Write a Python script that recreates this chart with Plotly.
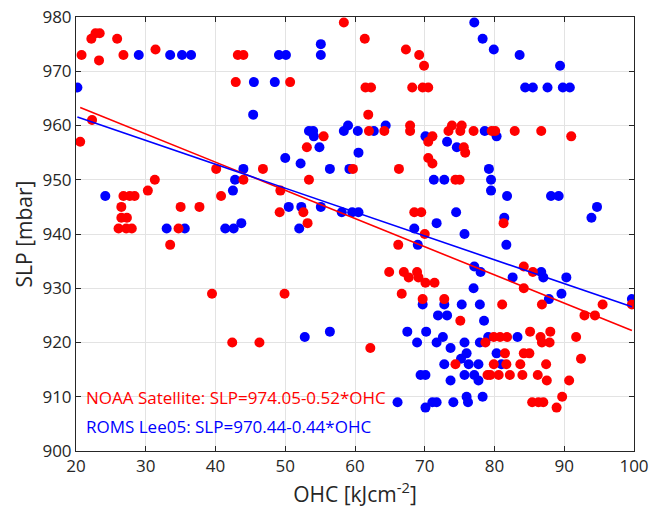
import plotly.graph_objects as go

# NOAA Satellite (red)
noaa_ohc = [20.8, 22.2, 22.8, 23.4, 23.3, 25.9, 26.8, 31.4, 22.3, 20.6,
            58.4, 43.2, 44.0, 42.9, 50.7, 55.5, 53.1,
            61.4, 67.3, 69.2, 69.9, 61.5, 62.3, 68.2, 69.7, 70.5, 61.9, 62.0, 64.2, 67.9, 67.9,
            71.1, 70.5, 70.5, 73.9, 73.4, 75.3, 75.1, 77.0, 79.6, 75.6, 75.8,
            80.1, 82.9, 86.7, 91.0,
            31.3, 30.3, 26.8, 27.7, 28.4, 26.5, 26.5, 27.3, 26.1, 27.2, 28.0, 33.5, 35.0, 37.7, 34.7,
            40.1, 46.8, 44.0, 40.8, 49.3, 49.2, 52.6, 53.4, 53.2, 59.7, 39.5, 49.9,
            71.1, 66.3, 74.4, 75.0, 68.5, 69.5, 70.0, 66.2, 64.9, 67.0, 67.7, 68.9, 69.1, 70.1, 71.4,
            66.7, 69.7, 72.8,
            81.3, 84.2, 85.5, 84.2,
            81.1, 86.8, 95.5, 99.7, 92.9, 94.4, 85.1, 88.0, 79.9, 80.8, 81.8, 86.6, 86.8, 87.9, 91.7,
            81.5, 84.2, 85.0, 92.4, 79.9, 81.7, 83.7, 87.4, 79.4, 80.6, 82.2, 84.0, 86.2, 87.5, 90.7,
            89.7, 85.4, 86.3, 87.0, 88.9,
            75.1, 78.7, 74.4, 79.0, 62.2,
            42.4, 46.3]
noaa_slp = [973, 976, 977, 977, 972, 976, 973, 974, 961, 957,
            979, 973, 973, 968, 968, 958, 956,
            976, 974, 973, 971, 967, 967, 967, 967, 967, 962, 959, 959, 960, 959,
            958, 957, 954, 960, 959, 960, 959, 959, 959, 956, 955,
            959, 959, 959, 958,
            950, 948, 947, 947, 947, 945, 943, 943, 941, 941, 941, 938, 945, 945, 941,
            952, 952, 950, 947, 948, 944, 944, 950, 942, 952, 929, 929,
            953, 952, 950, 950, 944, 944, 940, 938, 933, 933, 932, 933, 932, 931, 931,
            929, 928, 928,
            942, 934, 933, 930,
            927, 927, 927, 927, 925, 925, 922, 922, 921, 921, 921, 921, 920, 920, 921,
            918, 918, 918, 917, 916, 916, 916, 916, 914, 914, 914, 914, 914, 913, 913,
            910, 909, 909, 909, 908,
            924, 920, 916, 914, 919,
            920, 920]

# ROMS Lee05 (blue)
roms_ohc = [20.2, 29.0, 33.5, 35.2, 36.5,
            49.1, 50.1, 55.1, 55.1, 45.5, 48.5, 45.4, 53.4, 54.0, 54.1, 54.9, 58.4, 59.0, 50.0,
            60.4, 62.7, 64.4, 60.5, 70.1, 73.2, 74.6, 77.1, 78.3, 79.9, 78.6,
            83.6, 89.4, 84.4, 85.5, 87.6, 89.8, 90.8, 80.3,
            24.2, 33.0, 35.6,
            52.2, 56.4, 44.0, 42.8, 42.5, 50.5, 52.3, 55.1, 58.1, 41.4, 42.6, 43.7, 52.0, 59.2,
            79.2, 71.3, 72.8, 79.5, 79.5, 59.6, 60.5, 74.5, 71.7, 68.5, 75.7, 69.0, 77.1, 78.0, 77.0,
            81.8, 88.1, 89.2, 94.7, 93.9, 81.4, 81.7, 86.7, 87.0, 90.3, 82.6, 89.6, 87.8, 99.7,
            69.7, 72.8, 75.3, 77.9, 71.9, 73.2, 78.5, 67.5, 70.2, 72.6, 68.9, 71.7, 75.7, 73.7, 77.9,
            79.1, 76.0, 75.2, 72.8, 76.3, 77.7, 69.4, 70.1, 75.7, 77.1, 77.7, 73.7, 76.0, 78.3,
            66.1, 70.1, 71.1, 71.7, 74.1, 76.2,
            83.3, 80.3, 81.0,
            52.8, 56.4]
roms_slp = [967, 973, 973, 973, 973,
            973, 973, 975, 973, 968, 968, 962, 959, 959, 958, 956, 959, 960, 954,
            959, 959, 960, 955, 958, 957, 956, 979, 976, 974, 959,
            973, 971, 967, 967, 967, 967, 967, 958,
            947, 941, 941,
            953, 952, 952, 950, 948, 945, 945, 945, 944, 941, 941, 942, 941, 952,
            952, 950, 950, 950, 948, 944, 944, 944, 942, 941, 940, 938, 934, 933, 930,
            947, 947, 947, 945, 943, 943, 938, 933, 932, 932, 932, 929, 928, 928,
            927, 927, 927, 927, 925, 925, 924, 922, 922, 921, 920, 920, 920, 919, 920,
            921, 918, 917, 916, 916, 916, 914, 914, 914, 914, 913, 913, 910, 910,
            909, 908, 909, 909, 909, 909,
            921, 918, 916,
            921, 922]

# regression coefficients (from the figure text)
noaa_fit = (974.05, -0.52)
roms_fit = (970.44, -0.44)

x_ticks = [20, 30, 40, 50, 60, 70, 80, 90, 100]
y_ticks = [900, 910, 920, 930, 940, 950, 960, 970, 980]

RED = "#ff0000"
BLUE = "#0000ff"

fig = go.Figure()
fig.add_trace(go.Scatter(x=roms_ohc, y=roms_slp, mode="markers",
                         marker=dict(color=BLUE, size=10, line=dict(width=0)),
                         showlegend=False))
fig.add_trace(go.Scatter(x=noaa_ohc, y=noaa_slp, mode="markers",
                         marker=dict(color=RED, size=10, line=dict(width=0)),
                         showlegend=False))

nx = [min(noaa_ohc), max(noaa_ohc)]
fig.add_trace(go.Scatter(x=nx, y=[noaa_fit[0] + noaa_fit[1] * v for v in nx], mode="lines",
                         line=dict(color=RED, width=1.6), showlegend=False))
rx = [min(roms_ohc), max(roms_ohc)]
fig.add_trace(go.Scatter(x=rx, y=[roms_fit[0] + roms_fit[1] * v for v in rx], mode="lines",
                         line=dict(color=BLUE, width=1.6), showlegend=False))

fig.add_annotation(x=21.1, y=909.8, xref="x", yref="y", xanchor="left", yanchor="middle",
                   text="NOAA Satellite: SLP=974.05-0.52*OHC", showarrow=False,
                   font=dict(color=RED, size=17))
fig.add_annotation(x=21.1, y=904.6, xref="x", yref="y", xanchor="left", yanchor="middle",
                   text="ROMS Lee05: SLP=970.44-0.44*OHC", showarrow=False,
                   font=dict(color=BLUE, size=17))

axis_common = dict(showline=True, linecolor="#262626", linewidth=1, mirror="ticks",
                   ticks="inside", ticklen=5, tickcolor="#262626",
                   showgrid=True, gridcolor="#e3e3e3", gridwidth=1, zeroline=False,
                   automargin=False, ticklabeloverflow="allow",
                   tickfont=dict(size=17, color="#262626"))

fig.update_xaxes(range=[20, 100], tickvals=x_ticks, ticktext=[str(t) for t in x_ticks],
                 title=dict(text="OHC [kJcm<sup>-2</sup>]", font=dict(size=21, color="#262626"), standoff=6),
                 **axis_common)
fig.update_yaxes(range=[900, 980], tickvals=y_ticks, ticktext=[str(t) for t in y_ticks],
                 title=dict(text="SLP [mbar]", font=dict(size=21, color="#262626"), standoff=4),
                 **axis_common)

fig.update_layout(width=651, height=510, margin=dict(l=76, r=17, t=17, b=59),
                  plot_bgcolor="white", paper_bgcolor="white",
                  font=dict(family="Open Sans, sans-serif"))

fig.write_html("out.html", config={"displayModeBar": False},
               post_script="document.body.style.margin='0';")
